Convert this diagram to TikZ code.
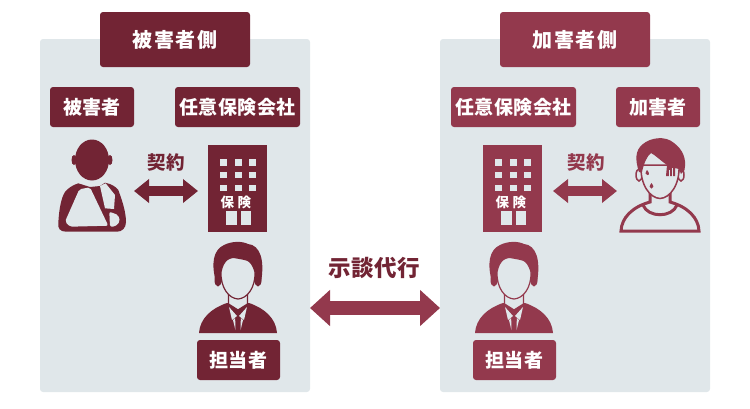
\documentclass[tikz,border=0pt]{standalone}
\usepackage{fontspec}
\setmainfont{Noto Sans CJK JP}
\usetikzlibrary{arrows.meta}
\definecolor{darkred}{HTML}{722434}
\definecolor{lightred}{HTML}{93394D}
\definecolor{panelgray}{HTML}{E0E7EA}
\newfontfamily\spacedfont[LetterSpace=7]{Noto Sans CJK JP}
\newfontfamily\labelfont[LetterSpace=2]{Noto Sans CJK JP}
\tikzset{
  pics/agent/.style={code={
    % hair, ears, body
    \fill[#1] (-22,40) .. controls (-27,22) and (-25,8) .. (-14,3) .. controls (-6,-1) and (4,-1) .. (10,2) .. controls (22,3) and (27,18) .. (23,40) -- cycle;
    \fill[#1] (-20,38) ellipse (3.5 and 6.5);
    \fill[#1] (20,38) ellipse (3.5 and 6.5);
    \fill[#1] (-39,91) .. controls (-38,76) and (-26,66) .. (-11,61) -- (11,61) .. controls (26,66) and (38,76) .. (39,91) -- cycle;
    % neck and face
    \filldraw[fill=panelgray,draw=#1,line width=1.3] (-9.5,48) -- (-9.5,62) -- (0,68) -- (9.5,62) -- (9.5,48) -- cycle;
    \filldraw[fill=panelgray,draw=#1,line width=1.2] (-17,30) .. controls (-15,18) and (-8,14) .. (-1,16) .. controls (6,18) and (13,15) .. (17,30) .. controls (17.5,46) and (9,56.5) .. (0,57) .. controls (-9,56.5) and (-17.5,46) .. (-17,30) -- cycle;
    % shirt and tie
    \fill[panelgray] (-9,65) -- (-1,74) -- (-6,78) -- cycle;
    \fill[panelgray] (9,65) -- (1,74) -- (6,78) -- cycle;
    \fill[panelgray] (-5,78) -- (-2.8,76) -- (-2.6,88) -- cycle;
    \fill[panelgray] (5,78) -- (2.8,76) -- (2.6,88) -- cycle;
  }},
  pics/office/.style={code={
    \fill[#1] (0,0) rectangle (58.5,87);
    \foreach \wx in {15,30,44}
      \foreach \wy in {17.3,30,43}
        \fill[panelgray] (\wx-3.2,\wy-3.2) rectangle (\wx+3.2,\wy+3.2);
    \node[text=white,font=\bfseries\fontsize{13.5}{13.5}\selectfont,inner sep=0] (officetext) at (19,57) {保};
    \node[text=white,font=\bfseries\fontsize{13.5}{13.5}\selectfont,inner sep=0] (officetext2) at (36,57) {険};
    \fill[panelgray] (18,66) rectangle (28.4,80);
    \fill[panelgray] (32.4,66) rectangle (42.7,80);
  }},
  bigarrow/.style={{Triangle[length=15pt,width=23pt]}-{Triangle[length=15pt,width=23pt]},line width=10pt},
  talkarrow/.style={{Triangle[length=20pt,width=35pt]}-{Triangle[length=20pt,width=35pt]},line width=14pt},
}
\begin{document}
\begin{tikzpicture}[x=1pt,y=-1pt,
    panel/.style={fill=panelgray,rounded corners=3pt,minimum width=270pt,minimum height=353pt,inner sep=0},
    headbox/.style={rounded corners=3pt,minimum width=150pt,minimum height=55pt,inner sep=0,text=white,font=\spacedfont\bfseries\fontsize{20}{20}\selectfont},
    tagbox/.style={rounded corners=3pt,minimum height=40pt,inner sep=0,text=white,font=\labelfont\bfseries\fontsize{19}{19}\selectfont},
    signtext/.style={inner sep=0,font=\labelfont\bfseries\fontsize{18.5}{18.5}\selectfont}]
  \useasboundingbox (0,0) rectangle (750,408);

  \node[panel] (leftpanel) at (175,215.5) {};
  \node[panel] (rightpanel) at (575,215.5) {};

  \node[headbox,fill=darkred] (lefthead) at (175,39.5) {被害者側};
  \node[headbox,fill=lightred] (righthead) at (575,39.5) {加害者側};

  \node[tagbox,fill=darkred,minimum width=84pt] (victim) at (92,107) {被害者};
  \node[tagbox,fill=darkred,minimum width=125pt] (leftins) [right of=victim,node distance=145.5pt] {任意保険会社};
  \node[tagbox,fill=lightred,minimum width=125pt] (rightins) at (513.5,107) {任意保険会社};
  \node[tagbox,fill=lightred,minimum width=84pt] (culprit) [right of=rightins,node distance=144.5pt] {加害者};
  \node[tagbox,fill=darkred,minimum width=83pt] (leftstaff) at (238.5,360) {担当者};
  \node[tagbox,fill=lightred,minimum width=83pt] (rightstaff) at (514.5,360) {担当者};

  % injured person
  \fill[darkred] (92,160) ellipse (17 and 20.5);
  \fill[darkred] (74,160) ellipse (2.5 and 5);
  \fill[darkred] (110,160) ellipse (2.5 and 5);
  \fill[darkred] (78.3,183.3) -- (90,187) -- (100,186) -- (105,182.7) .. controls (112,184) and (116,187) .. (118.3,190) .. controls (122,200) and (126,212) .. (126,222) .. controls (126,228) and (122,231.7) .. (117,231.7) -- (66,231.7) .. controls (60,231.7) and (57.5,228) .. (58.3,223) .. controls (59,210) and (61,198) .. (65,192) .. controls (68,188) and (73,185) .. (78.3,183.3) -- cycle;
  \fill[panelgray,rounded corners=2pt] (79.3,189.3) -- (90,187.3) -- (108.3,225.7) -- (70,226.7) -- (65,221.7) -- cycle;
  \fill[panelgray] (100,186) -- (105.7,183.3) -- (115,195) -- (114,209) -- (105,208.3) -- cycle;
  \fill[panelgray,rounded corners=2pt] (109.3,211.7) -- (118.3,215) -- (120,221.7) -- (115,226.7) -- (110,226.7) -- cycle;

  % person on the other side
  \filldraw[fill=panelgray,draw=lightred,line width=3] (621,231) .. controls (621.5,218) and (632,207) .. (650,202) -- (650,192) -- (670,192) -- (670,202) .. controls (688,207) and (698.5,218) .. (699,231) -- cycle;
  \draw[lightred,line width=3] (643,205) .. controls (648,218) and (672,218) .. (677,205);
  \filldraw[fill=panelgray,draw=lightred,line width=1.5] (639,175) ellipse (3 and 6);
  \filldraw[fill=panelgray,draw=lightred,line width=1.5] (681,175) ellipse (3 and 6);
  \filldraw[fill=panelgray,draw=lightred,line width=1.5] (641,165) .. controls (640,185) and (650,198) .. (660,198.5) .. controls (670,198) and (680,185) .. (679,165) -- cycle;
  \fill[lightred] (639,172) .. controls (635,160) and (635,150) .. (643,144) .. controls (650,138) and (665,135) .. (674,143) .. controls (682,149) and (687,158) .. (684.5,170) -- (681,174) -- (679,169) -- (675,168) -- (675,176) -- (666,176) -- (667,165) .. controls (660,160) and (655,155) .. (651,153) .. controls (647,156) and (644,163) .. (642,172) -- cycle;
  \fill[panelgray] (668.5,170) rectangle (669.5,176.5);
  \fill[panelgray] (672,168) rectangle (673,176.5);
  \fill[lightred] (647,170) .. controls (645,173) and (645,175) .. (647.5,175) .. controls (650,175) and (649,172) .. (647,170) -- cycle;
  \fill[lightred] (651.5,183) .. controls (649,186) and (649,188.5) .. (651.5,188.5) .. controls (654,188.5) and (654,186) .. (651.5,183) -- cycle;

  \pic at (208.3,145) {office=darkred};
  \pic at (483.3,145) {office=lightred};
  \pic at (238,242) {agent=darkred};
  \pic at (514,242) {agent=lightred};

  % arrows
  \coordinate (leftcontractA) at (134,191);
  \coordinate (leftcontractB) at (198,191);
  \coordinate (rightcontractA) at (553,191);
  \coordinate (rightcontractB) at (617,191);
  \coordinate (talkA) at (310,308);
  \coordinate (talkB) at (440,308);
  \draw[bigarrow,darkred] (leftcontractA) -- (leftcontractB);
  \draw[bigarrow,lightred] (rightcontractA) -- (rightcontractB);
  \draw[talkarrow,lightred] (talkA) -- (talkB);

  \node[signtext,text=darkred] (leftsign) at (166.5,162) {契約};
  \node[signtext,text=lightred] (rightsign) at (586,162) {契約};
  \node[inner sep=0,text=darkred,font=\labelfont\bfseries\fontsize{22.5}{22.5}\selectfont] (talktext) at (374,268) {示談代行};
\end{tikzpicture}
\end{document}
